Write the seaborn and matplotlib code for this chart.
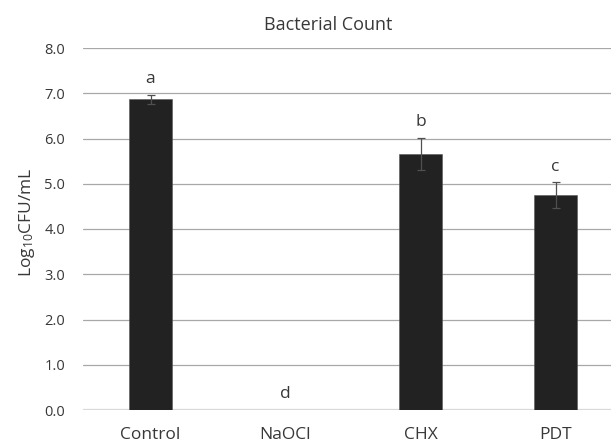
import numpy as np
import pandas as pd
import matplotlib
matplotlib.use("Agg")
import matplotlib.pyplot as plt
import seaborn as sns

# --- data ---
groups = ["Control", "NaOCl", "CHX", "PDT"]
means = [6.87, 0.0, 5.66, 4.75]
errs = [0.10, 0.0, 0.35, 0.28]
letters = ["a", "d", "b", "c"]
yticks = [0.0, 1.0, 2.0, 3.0, 4.0, 5.0, 6.0, 7.0, 8.0]

sns.set_theme(style="white")
plt.rcParams["font.family"] = ["Open Sans", "DejaVu Sans"]
plt.rcParams["mathtext.default"] = "regular"

text_col = "#383838"
df = pd.DataFrame({"group": groups, "mean": means})

W, H = 611, 443
left, bottom, top = 83, 410, 48
step = 135  # px per category

fig = plt.figure(figsize=(W / 100, H / 100), dpi=100)
ax = fig.add_axes([left / W, 1 - bottom / H, 1 - left / W, (bottom - top) / H])

# gridlines behind bars
for t in yticks[1:]:
    ax.axhline(t, color="#a8a8a8", lw=0.9, zorder=0)
ax.axhline(0, color="#d9d9d9", lw=1.6, zorder=1)

sns.barplot(data=df, x="group", y="mean", color="#222222", width=0.32,
            errorbar=None, ax=ax, zorder=2, edgecolor="#555555", linewidth=0.4)

# error bars (skip zero ones)
x = np.arange(len(groups))
m = np.array(errs) > 0
ax.errorbar(x[m], np.array(means)[m], yerr=np.array(errs)[m], fmt="none",
            ecolor="#505050", elinewidth=0.9, capsize=3, capthick=0.9, zorder=3)

for xi, mu, e, lab in zip(x, means, errs, letters):
    ax.text(xi, mu + e + 0.35, lab, ha="center", va="center",
            fontsize=12.5, color=text_col)

ax.set_ylim(0, 8)
ax.set_xlim(-0.5, (W - left) / step - 0.5)
ax.set_yticks(yticks)
ax.set_yticklabels([f"{t:.1f}" for t in yticks], fontsize=10.5, color=text_col)
ax.tick_params(axis="y", length=0, pad=13)
ax.tick_params(axis="x", length=0, pad=12, labelsize=12.5, labelcolor=text_col)
for s in ax.spines.values():
    s.set_visible(False)
ax.set_xlabel("")
ax.set_ylabel("")

fig.text(328 / W, 1 - 25 / H, "Bacterial Count", ha="center", va="center",
         fontsize=13, color=text_col)
fig.text(27 / W, 1 - 222 / H, r"Log$_{10}$CFU/mL", rotation=90,
         ha="center", va="center", fontsize=12.5, color=text_col)

fig.savefig("out.png", dpi=100)
